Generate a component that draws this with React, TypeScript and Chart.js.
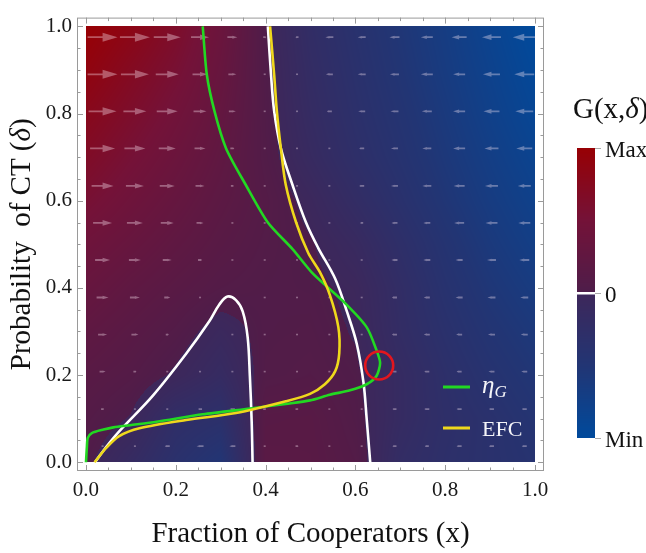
import React, { useEffect, useRef } from 'react';
import { Chart, registerables } from 'chart.js';

Chart.register(...registerables);

const FONT = "'Liberation Serif', 'Times New Roman', serif";

// ---------- axis ticks ----------
const xTickValues = [0, 0.2, 0.4, 0.6, 0.8, 1.0];
const yTickValues = [0, 0.2, 0.4, 0.6, 0.8, 1.0];
const minorTickValues = [0, 0.05, 0.1, 0.15, 0.2, 0.25, 0.3, 0.35, 0.4, 0.45, 0.5, 0.55, 0.6, 0.65, 0.7, 0.75, 0.8, 0.85, 0.9, 0.95, 1.0];

// ---------- heat map G(x, delta), normalised (+1 = Max, -1 = Min) ----------
const gridX = [0, 0.1, 0.2, 0.3, 0.4, 0.5, 0.6, 0.7, 0.8, 0.9, 1.0];
const gridY = [0, 0.1, 0.2, 0.3, 0.4, 0.5, 0.6, 0.7, 0.8, 0.9, 1.0];
const gRow00 = [0.03, -0.15, -0.35, -0.5, 0.15, 0.14, 0.07, -0.2, -0.3, -0.36, -0.42];
const gRow01 = [0.08, -0.01, -0.25, -0.32, 0.12, 0.13, 0.04, -0.15, -0.28, -0.36, -0.46];
const gRow02 = [0.14, 0.08, -0.02, -0.15, 0.05, 0.07, 0.02, -0.15, -0.3, -0.42, -0.52];
const gRow03 = [0.22, 0.14, 0.06, -0.06, 0.04, 0.05, -0.01, -0.2, -0.35, -0.48, -0.58];
const gRow04 = [0.32, 0.22, 0.14, 0.07, 0.04, 0.03, -0.03, -0.22, -0.4, -0.54, -0.65];
const gRow05 = [0.42, 0.32, 0.22, 0.13, 0.06, 0.01, -0.1, -0.28, -0.45, -0.6, -0.72];
const gRow06 = [0.55, 0.42, 0.3, 0.18, 0.08, -0.04, -0.2, -0.36, -0.52, -0.66, -0.78];
const gRow07 = [0.67, 0.52, 0.38, 0.23, 0.05, -0.12, -0.28, -0.42, -0.57, -0.71, -0.84];
const gRow08 = [0.78, 0.62, 0.46, 0.28, 0.04, -0.16, -0.32, -0.46, -0.61, -0.76, -0.9];
const gRow09 = [0.9, 0.72, 0.55, 0.33, 0.03, -0.19, -0.35, -0.5, -0.65, -0.8, -0.95];
const gRow10 = [1.0, 0.84, 0.64, 0.38, 0.02, -0.22, -0.38, -0.53, -0.68, -0.84, -1.0];
const gValues = [gRow00, gRow01, gRow02, gRow03, gRow04, gRow05, gRow06, gRow07, gRow08, gRow09, gRow10];

// colour map branches (value 0 -> 0.5 -> 1 in magnitude)
const positiveColors = ['#4e1d4a', '#741238', '#980004'];
const negativeColors = ['#3e275a', '#223574', '#004a9c'];

// ---------- vector field (horizontal rate of change, arbitrary units) ----------
const arrowX = [0.037, 0.109, 0.181, 0.254, 0.326, 0.398, 0.47, 0.542, 0.614, 0.687, 0.759, 0.831, 0.903, 0.976];
const arrowY = [0.037, 0.122, 0.208, 0.293, 0.378, 0.464, 0.549, 0.634, 0.72, 0.805, 0.89, 0.975];
const xdot00 = [1, -2, -5, -7, -6, 2, 3, 2, 1, -4, -4, -5, -5, -5];
const xdot01 = [3, 1, -2, -4, -5, 3, 3, 2, 1, -4, -5, -5, -5, -5];
const xdot02 = [6, 3, 1, -2, -2, 2, 2, 1, 0, -4, -5, -5, -6, -6];
const xdot03 = [9, 7, 3, 1, -1, 1, 1, 1, -1, -5, -6, -6, -7, -7];
const xdot04 = [12, 10, 6, 2, 1, 1, 1, 0, -1, -5, -6, -7, -8, -8];
const xdot05 = [15, 12, 9, 4, 2, 1, 1, -1, -2, -6, -7, -7, -9, -10];
const xdot06 = [19, 16, 13, 7, 2, 1, 1, -2, -3, -6, -7, -10, -12, -12];
const xdot07 = [22, 18, 15, 9, 3, 1, -1, -2, -5, -7, -9, -11, -13, -13];
const xdot08 = [25, 21, 17, 11, 4, 2, -2, -2, -5, -7, -9, -12, -14, -16];
const xdot09 = [28, 23, 21, 13, 7, 2, -2, -5, -7, -8, -10, -12, -16, -18];
const xdot10 = [30, 28, 23, 15, 8, 2, -2, -7, -8, -9, -12, -12, -17, -20];
const xdot11 = [30, 30, 27, 18, 10, 3, -3, -8, -8, -10, -12, -15, -19, -23];
const xdotRows = [xdot00, xdot01, xdot02, xdot03, xdot04, xdot05, xdot06, xdot07, xdot08, xdot09, xdot10, xdot11];
const VECTOR_SCALE = 0.00223; // x-axis units per unit of xdot

// ---------- curves ----------
const etaGX = [0, 0.002, 0.004, 0.013, 0.039, 0.061, 0.098, 0.157, 0.26, 0.371, 0.445, 0.499, 0.543, 0.588, 0.625, 0.647, 0.655, 0.647, 0.625, 0.573, 0.506, 0.46, 0.405, 0.356, 0.312, 0.286, 0.269, 0.26];
const etaGY = [0, 0.035, 0.056, 0.067, 0.075, 0.08, 0.085, 0.093, 0.11, 0.124, 0.134, 0.142, 0.155, 0.165, 0.179, 0.198, 0.228, 0.257, 0.31, 0.369, 0.432, 0.489, 0.55, 0.636, 0.72, 0.806, 0.89, 1.0];

const efcX = [0.019, 0.045, 0.074, 0.119, 0.223, 0.334, 0.445, 0.499, 0.532, 0.555, 0.564, 0.562, 0.543, 0.521, 0.495, 0.468, 0.445, 0.434, 0.425, 0.419, 0.41];
const efcY = [0, 0.033, 0.06, 0.078, 0.097, 0.113, 0.14, 0.157, 0.179, 0.209, 0.25, 0.31, 0.384, 0.436, 0.48, 0.55, 0.636, 0.72, 0.806, 0.89, 1.0];

const nullRightX = [0.405, 0.412, 0.419, 0.434, 0.46, 0.49, 0.517, 0.555, 0.581, 0.603, 0.618, 0.625, 0.633];
const nullRightY = [1.0, 0.89, 0.806, 0.72, 0.636, 0.55, 0.492, 0.421, 0.346, 0.272, 0.183, 0.101, 0];

const nullHumpX = [0.02, 0.045, 0.074, 0.149, 0.223, 0.275, 0.297, 0.315, 0.334, 0.349, 0.36, 0.365, 0.369, 0.371];
const nullHumpY = [0, 0.035, 0.071, 0.153, 0.249, 0.324, 0.362, 0.38, 0.372, 0.346, 0.287, 0.197, 0.093, 0];

const fixedPointX = [0.653];
const fixedPointY = [0.222];

const legendLabels = ['η', 'EFC'];
const colorbarLabels = ['Max', '0', 'Min'];
const colorbarLevels = [1, 0, -1];

const GREEN = '#22d822';
const YELLOW = '#efd81c';

// ---------- helpers ----------
function hexToRgb(h: string): number[] {
  const n = parseInt(h.slice(1), 16);
  return [(n >> 16) & 255, (n >> 8) & 255, n & 255];
}
const posRgb = positiveColors.map(hexToRgb);
const negRgb = negativeColors.map(hexToRgb);

function cmap(t: number): number[] {
  const s = Math.min(1, Math.abs(t));
  const stops = t >= 0 ? posRgb : negRgb;
  const seg = s * (stops.length - 1);
  const i = Math.min(stops.length - 2, Math.floor(seg));
  const f = seg - i;
  const a = stops[i], b = stops[i + 1];
  return [a[0] + (b[0] - a[0]) * f, a[1] + (b[1] - a[1]) * f, a[2] + (b[2] - a[2]) * f];
}

function sampleG(x: number, y: number): number {
  const nx = gridX.length, ny = gridY.length;
  let fx = ((x - gridX[0]) / (gridX[nx - 1] - gridX[0])) * (nx - 1);
  let fy = ((y - gridY[0]) / (gridY[ny - 1] - gridY[0])) * (ny - 1);
  fx = Math.max(0, Math.min(nx - 1, fx));
  fy = Math.max(0, Math.min(ny - 1, fy));
  const i = Math.min(nx - 2, Math.floor(fx));
  const j = Math.min(ny - 2, Math.floor(fy));
  const tx = fx - i, ty = fy - j;
  const v00 = gValues[j][i], v10 = gValues[j][i + 1];
  const v01 = gValues[j + 1][i], v11 = gValues[j + 1][i + 1];
  return (v00 * (1 - tx) + v10 * tx) * (1 - ty) + (v01 * (1 - tx) + v11 * tx) * ty;
}

// Paint a w x h image where each pixel colour comes from fn(i, j)
function paintImage(ctx: CanvasRenderingContext2D, left: number, top: number, w: number, h: number, fn: (i: number, j: number) => number[]) {
  const off = document.createElement('canvas');
  off.width = w;
  off.height = h;
  const octx = off.getContext('2d')!;
  const img = octx.createImageData(w, h);
  for (let j = 0; j < h; j++) {
    for (let i = 0; i < w; i++) {
      const c = fn(i, j);
      const k = (j * w + i) * 4;
      img.data[k] = c[0];
      img.data[k + 1] = c[1];
      img.data[k + 2] = c[2];
      img.data[k + 3] = 255;
    }
  }
  octx.putImageData(img, 0, 0);
  ctx.drawImage(off, left, top);
}

type Part = { t: string; italic?: boolean; size?: number; dy?: number };

function richWidth(ctx: CanvasRenderingContext2D, parts: Part[], size: number) {
  let w = 0;
  for (const p of parts) {
    ctx.font = `${p.italic ? 'italic ' : ''}${p.size || size}px ${FONT}`;
    w += ctx.measureText(p.t).width;
  }
  return w;
}

function drawRich(ctx: CanvasRenderingContext2D, parts: Part[], x: number, y: number, size: number, align: 'left' | 'center') {
  let cx = x;
  if (align === 'center') cx = x - richWidth(ctx, parts, size) / 2;
  ctx.textAlign = 'left';
  ctx.textBaseline = 'alphabetic';
  for (const p of parts) {
    ctx.font = `${p.italic ? 'italic ' : ''}${p.size || size}px ${FONT}`;
    ctx.fillText(p.t, cx, y + (p.dy || 0));
    cx += ctx.measureText(p.t).width;
  }
}

function drawArrow(ctx: CanvasRenderingContext2D, cx: number, cy: number, len: number, dir: number) {
  if (len < 2.5) {
    ctx.fillRect(cx - 1, cy - 0.8, 2, 1.6);
    return;
  }
  const half = len / 2;
  const tail = cx - dir * half;
  const tip = cx + dir * half;
  const hl = len < 6 ? len * 0.35 : len * 0.5;
  const hw = Math.max(1.2, hl * 0.3);
  const base = tip - dir * hl;
  const sw = 0.9;
  ctx.beginPath();
  ctx.moveTo(tail, cy - sw);
  ctx.lineTo(base, cy - sw);
  ctx.lineTo(base, cy - hw);
  ctx.lineTo(tip, cy);
  ctx.lineTo(base, cy + hw);
  ctx.lineTo(base, cy + sw);
  ctx.lineTo(tail, cy + sw);
  ctx.closePath();
  ctx.fill();
}

const toXY = (xs: number[], ys: number[]) => xs.map((x, i) => ({ x, y: ys[i] }));

// ---------- plugins ----------
const backgroundPlugin = {
  id: 'fieldBackground',
  beforeDatasetsDraw(chart: any) {
    const { ctx } = chart;
    const xs = chart.scales.x, ys = chart.scales.y;
    const left = Math.round(xs.getPixelForValue(gridX[0]));
    const right = Math.round(xs.getPixelForValue(gridX[gridX.length - 1]));
    const top = Math.round(ys.getPixelForValue(gridY[gridY.length - 1]));
    const bottom = Math.round(ys.getPixelForValue(gridY[0]));
    ctx.save();
    ctx.globalAlpha = 1;
    paintImage(ctx, left, top, right - left, bottom - top, (i, j) =>
      cmap(sampleG(xs.getValueForPixel(left + i + 0.5), ys.getValueForPixel(top + j + 0.5)))
    );

    // vector field
    ctx.fillStyle = 'rgba(255, 236, 246, 0.36)';
    for (let r = 0; r < arrowY.length; r++) {
      const cy = ys.getPixelForValue(arrowY[r]);
      for (let c = 0; c < arrowX.length; c++) {
        const v = xdotRows[r][c];
        const cx = xs.getPixelForValue(arrowX[c]);
        const len = Math.abs(xs.getPixelForValue(arrowX[c] + Math.abs(v) * VECTOR_SCALE) - cx);
        drawArrow(ctx, cx, cy, len, v >= 0 ? 1 : -1);
      }
    }
    ctx.restore();
  },
};

const decorPlugin = {
  id: 'decor',
  afterDatasetsDraw(chart: any) {
    const { ctx, chartArea: ca } = chart;
    const xs = chart.scales.x, ys = chart.scales.y;
    ctx.save();
    ctx.globalAlpha = 1;
    ctx.strokeStyle = '#9a9a9a';
    ctx.lineWidth = 1;
    ctx.strokeRect(ca.left + 0.5, ca.top + 0.5, ca.right - ca.left - 1, ca.bottom - ca.top - 1);
    ctx.beginPath();
    for (const v of minorTickValues) {
      const major = xTickValues.some((t) => Math.abs(t - v) < 1e-9);
      const len = major ? 6 : 3.5;
      const px = Math.round(xs.getPixelForValue(v)) + 0.5;
      ctx.moveTo(px, ca.bottom);
      ctx.lineTo(px, ca.bottom - len);
      ctx.moveTo(px, ca.top);
      ctx.lineTo(px, ca.top + len);
      const py = Math.round(ys.getPixelForValue(v)) + 0.5;
      ctx.moveTo(ca.left, py);
      ctx.lineTo(ca.left + len, py);
      ctx.moveTo(ca.right, py);
      ctx.lineTo(ca.right - len, py);
    }
    ctx.stroke();

    const lx0 = ca.right - 101, lx1 = ca.right - 74, tx = ca.right - 62;
    const ly0 = ca.bottom - 84, ly1 = ca.bottom - 43;
    ctx.lineWidth = 3;
    ctx.strokeStyle = GREEN;
    ctx.beginPath();
    ctx.moveTo(lx0, ly0);
    ctx.lineTo(lx1, ly0);
    ctx.stroke();
    ctx.strokeStyle = YELLOW;
    ctx.beginPath();
    ctx.moveTo(lx0, ly1);
    ctx.lineTo(lx1, ly1);
    ctx.stroke();
    ctx.fillStyle = '#f4f4f8';
    drawRich(ctx, [{ t: legendLabels[0], italic: true, size: 25 }, { t: 'G', italic: true, size: 17, dy: 4 }], tx, ly0 + 6, 25, 'left');
    drawRich(ctx, [{ t: legendLabels[1] }], tx, ly1 + 7.5, 22, 'left');

    // colour bar (drawn here, same pass as the heat map)
    const cbL = ca.right + 33, cbW = 18;
    const cbT = ca.top + 130, cbB = ca.bottom - 33;
    const cbH = cbB - cbT;
    const levelY = (lv: number) => cbT + ((colorbarLevels[0] - lv) / (colorbarLevels[0] - colorbarLevels[2])) * cbH;
    paintImage(ctx, cbL, cbT, cbW, cbH, (_i, j) => cmap(colorbarLevels[0] - ((j + 0.5) / cbH) * (colorbarLevels[0] - colorbarLevels[2])));
    const yZero = levelY(colorbarLevels[1]);
    ctx.fillStyle = '#ffffff';
    ctx.fillRect(cbL - 1, Math.round(yZero) - 1, cbW + 2, 2.5);
    ctx.strokeStyle = '#aaaaaa';
    ctx.lineWidth = 1;
    ctx.beginPath();
    for (const lv of colorbarLevels) {
      const yy = Math.round(levelY(lv)) + 0.5;
      ctx.moveTo(cbL + cbW, yy);
      ctx.lineTo(cbL + cbW + 6, yy);
    }
    ctx.stroke();
    ctx.fillStyle = '#111';
    const labelX = cbL + cbW + 10;
    const dys = [9.5, 9, 8.5];
    colorbarLabels.forEach((lab, k) => {
      drawRich(ctx, [{ t: lab }], labelX, levelY(colorbarLevels[k]) + dys[k], 23, 'left');
    });
    drawRich(ctx, [{ t: 'G(x,' }, { t: 'δ', italic: true }, { t: ')' }], cbL - 4, cbT - 29.5, 29, 'left');
    ctx.restore();
  },
  afterDraw(chart: any) {
    const { ctx, chartArea: ca } = chart;
    ctx.save();
    ctx.fillStyle = '#111';
    drawRich(ctx, [{ t: 'Fraction of Cooperators (x)' }], (ca.left + ca.right) / 2, 542, 29, 'center');
    ctx.translate(30, (ca.top + ca.bottom) / 2);
    ctx.rotate(-Math.PI / 2);
    drawRich(ctx, [{ t: 'Probability  of CT (' }, { t: 'δ', italic: true }, { t: ')' }], 0, 0, 29, 'center');
    ctx.restore();
  },
};

export default function App() {
  const ref = useRef<HTMLCanvasElement>(null);
  useEffect(() => {
    document.body.style.margin = '0';
    const canvas = ref.current!;
    const chart = new Chart(canvas, {
      type: 'scatter',
      data: {
        datasets: [
          { label: 'fixed point', data: toXY(fixedPointX, fixedPointY), pointRadius: 14, pointHoverRadius: 14, pointBorderWidth: 2.6, pointBorderColor: '#e3161e', pointBackgroundColor: 'rgba(0,0,0,0)', showLine: false, order: 0 },
          { label: 'EFC', data: toXY(efcX, efcY), borderColor: YELLOW, borderWidth: 2.6, showLine: true, pointRadius: 0, tension: 0.3, order: 1 },
          { label: 'ηG', data: toXY(etaGX, etaGY), borderColor: GREEN, borderWidth: 2.6, showLine: true, pointRadius: 0, tension: 0.25, order: 2 },
          { label: 'nullcline (upper)', data: toXY(nullRightX, nullRightY), borderColor: '#ffffff', borderWidth: 2.6, showLine: true, pointRadius: 0, tension: 0.35, order: 3 },
          { label: 'nullcline (lower)', data: toXY(nullHumpX, nullHumpY), borderColor: '#ffffff', borderWidth: 2.6, showLine: true, pointRadius: 0, tension: 0.35, order: 4 },
        ],
      },
      options: {
        animation: false,
        responsive: false,
        devicePixelRatio: 1,
        events: [],
        layout: { padding: { top: 4, right: 102, left: 0, bottom: 0 }, autoPadding: false },
        plugins: { legend: { display: false }, tooltip: { enabled: false }, title: { display: false } },
        scales: {
          x: {
            type: 'linear', min: -0.02, max: 1.02,
            afterBuildTicks: (s: any) => { s.ticks = xTickValues.map((v) => ({ value: v })); },
            afterFit: (s: any) => { s.height = 82; },
            ticks: { callback: (v: any) => Number(v).toFixed(1), font: { family: FONT, size: 21 }, color: '#1a1a1a', padding: 7, maxRotation: 0, autoSkip: false },
            grid: { display: false, drawTicks: false },
            border: { display: false },
          },
          y: {
            type: 'linear', min: -0.02, max: 1.02,
            afterBuildTicks: (s: any) => { s.ticks = yTickValues.map((v) => ({ value: v })); },
            afterFit: (s: any) => { s.width = 77; },
            ticks: { callback: (v: any) => Number(v).toFixed(1), font: { family: FONT, size: 21 }, color: '#1a1a1a', padding: 5, autoSkip: false },
            grid: { display: false, drawTicks: false },
            border: { display: false },
          },
        },
      },
      plugins: [backgroundPlugin, decorPlugin],
    } as any);
    return () => chart.destroy();
  }, []);
  return (
    <div style={{ width: 646, height: 553 }}>
      <canvas ref={ref} width={646} height={553} style={{ display: 'block' }} />
    </div>
  );
}
